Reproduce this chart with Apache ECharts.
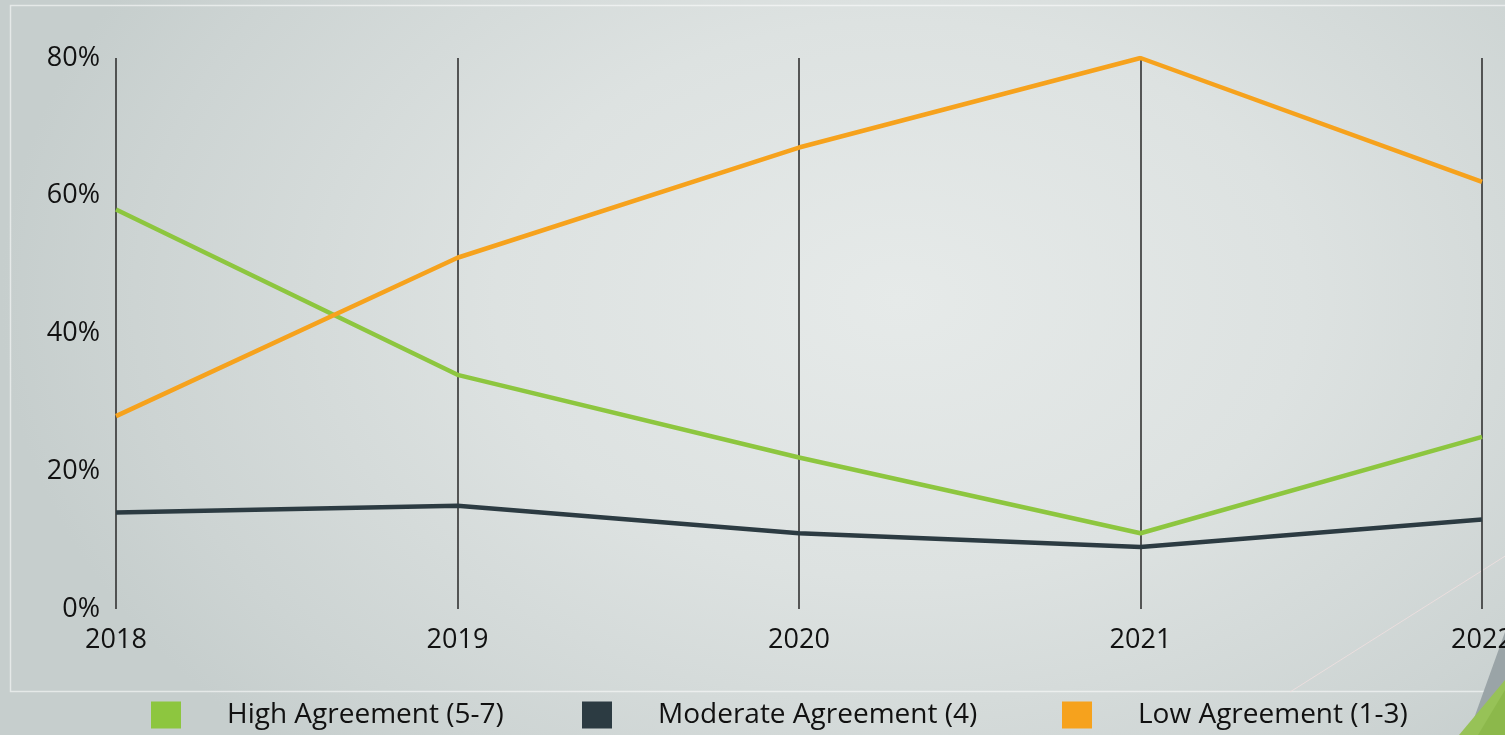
<!DOCTYPE html>
<html>
<head>
<meta charset="utf-8">
<script src="https://cdn.jsdelivr.net/npm/echarts@6/dist/echarts.min.js"></script>
<style>
  html, body { margin: 0; padding: 0; }
  body {
    width: 1505px; height: 735px; overflow: hidden;
    background: radial-gradient(ellipse 900px 620px at 900px 300px, #e6eae9 0%, #dde2e1 45%, #cdd4d3 85%, #c6cecd 100%);
  }
  #chart { width: 1505px; height: 735px; }
</style>
</head>
<body>
<div id="chart"></div>
<script>
// Survey agreement shares by year (percent)
const years = ['2018', '2019', '2020', '2021', '2022'];
const highAgreement = [58, 34, 22, 11, 25];
const moderateAgreement = [14, 15, 11, 9, 13];
const lowAgreement = [28, 51, 67, 80, 62];
const yTicks = [0, 20, 40, 60, 80];

const seriesNames = ['High Agreement (5-7)', 'Moderate Agreement (4)', 'Low Agreement (1-3)'];
const seriesColors = ['#8dc63f', '#2c3b42', '#f6a21d'];
const seriesData = [highAgreement, moderateAgreement, lowAgreement];

const font = '"Open Sans", "Noto Sans", sans-serif';
const chart = echarts.init(document.getElementById('chart'));

const legendLeft = [151, 582, 1062];

chart.setOption({
  backgroundColor: 'transparent',
  animation: false,
  textStyle: { fontFamily: font },
  graphic: [
    // soft frame around the plot area
    { type: 'rect', silent: true, z: -10,
      shape: { x: 10.5, y: 5.5, width: 1600, height: 686 },
      style: { fill: 'none', stroke: 'rgba(255,255,255,0.55)', lineWidth: 1.5 } },
    { type: 'line', silent: true, z: -10,
      shape: { x1: 1290, y1: 692, x2: 1510, y2: 553 },
      style: { stroke: 'rgba(245,225,225,0.7)', lineWidth: 1 } },
    // corner accents
    { type: 'polygon', silent: true, z: -5,
      shape: { points: [[1505, 632], [1505, 735], [1468, 735]] },
      style: { fill: '#9aa4a7' } },
    { type: 'polygon', silent: true, z: -4,
      shape: { points: [[1505, 680], [1505, 735], [1459, 735]] },
      style: { fill: '#97c257' } },
    { type: 'polygon', silent: true, z: -3,
      shape: { points: [[1505, 690], [1505, 735], [1478, 735]] },
      style: { fill: '#8cb84b' } }
  ],
  legend: legendLeft.map((x, i) => ({
    data: [seriesNames[i]],
    left: x,
    top: 701,
    padding: 0,
    itemWidth: 30,
    itemHeight: 27,
    icon: 'rect',
    itemStyle: { color: seriesColors[i] },
    textStyle: { fontFamily: font, fontSize: 28, color: '#111', padding: [0, 0, 0, 41] },
    selectedMode: false
  })),
  grid: { left: 116, right: 23, top: 58, bottom: 126, containLabel: false, outerBoundsMode: 'none' },
  xAxis: {
    type: 'category',
    data: years,
    boundaryGap: false,
    axisLine: { show: false },
    axisTick: { show: false },
    axisLabel: { fontSize: 27, color: '#111', margin: 18, fontFamily: font },
    splitLine: { show: true, lineStyle: { color: '#333', width: 1.6 } }
  },
  yAxis: {
    type: 'value',
    min: 0, max: 80, interval: 20,
    axisLine: { show: false },
    axisTick: { show: false },
    splitLine: { show: false },
    axisLabel: {
      fontSize: 27, color: '#111', margin: 16, fontFamily: font,
      formatter: v => yTicks.includes(v) ? v + '%' : ''
    }
  },
  series: seriesData.map((d, i) => ({
    name: seriesNames[i],
    type: 'line',
    data: d,
    symbol: 'none',
    color: seriesColors[i],
    lineStyle: { width: 4.5, color: seriesColors[i] },
    z: i === 1 ? 3 : (i === 0 ? 4 : 5)
  }))
});
</script>
</body>
</html>
